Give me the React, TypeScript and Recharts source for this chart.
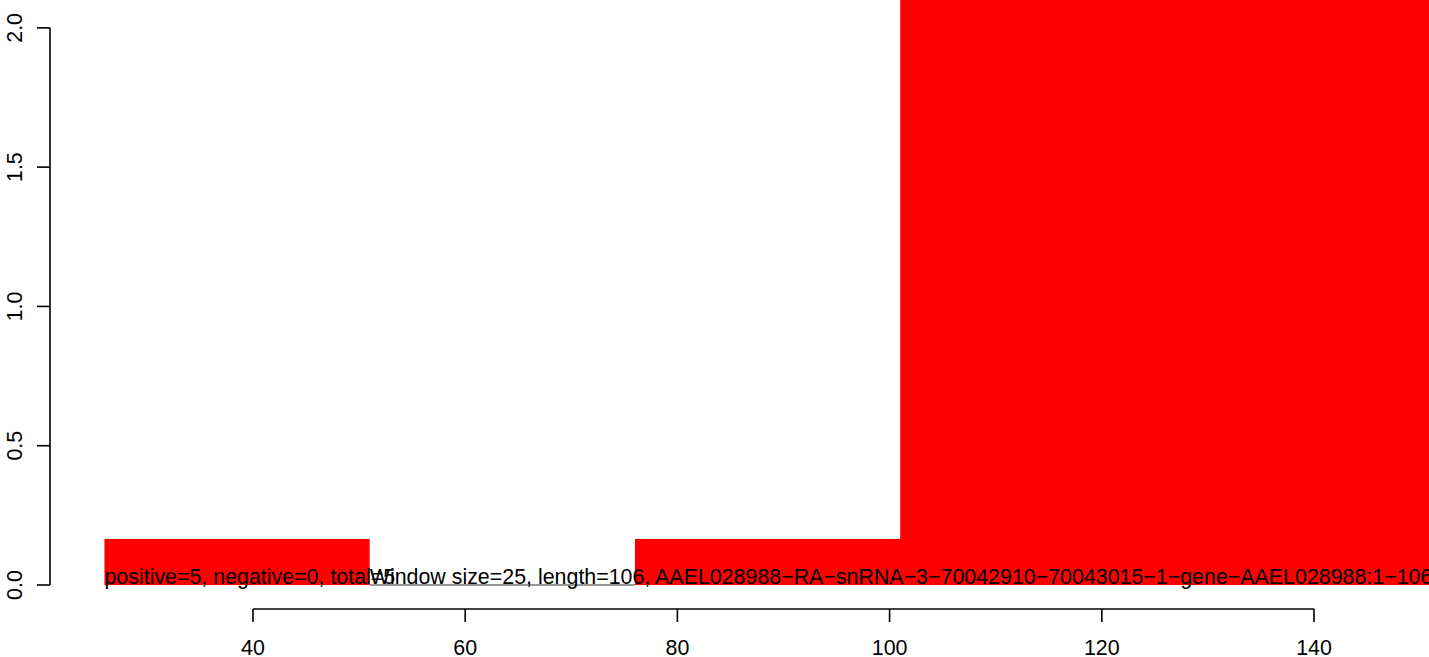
import { ComposedChart, Area, XAxis, YAxis, ReferenceLine, ReferenceDot } from 'recharts';

const binEdges = [26, 51, 76, 101, 126, 151];
const binHeights = [0.165, 0, 0.165, 2.6, 2.6];
const xTicks = [40, 60, 80, 100, 120, 140];
const yTicks = [0, 0.5, 1, 1.5, 2];
const yTickLabels = ['0.0', '0.5', '1.0', '1.5', '2.0'];
const countNote = 'positive=5, negative=0, total=5';
const windowNote =
  'Window size=25, length=106, AAEL028988−RA−snRNA−3−70042910−70043015−1−gene−AAEL028988:1−106';

const W = 1429;
const H = 657;
const PLOT_BOTTOM = 585;
const X_DOMAIN: [number, number] = [16.155, 150.84];
const Y_DOMAIN: [number, number] = [0, 2.1];
const FONT = '"Liberation Sans", Arial, Helvetica, sans-serif';
const FS = 21.4;

// R draws its axes a little away from the plot box
const xAxisLineY = -24 * (Y_DOMAIN[1] / PLOT_BOTTOM);
const yAxisLineX = X_DOMAIN[0] + 50 * ((X_DOMAIN[1] - X_DOMAIN[0]) / W);

const data = binEdges.map((e, i) => ({
  pos: e,
  h: binHeights[Math.min(i, binHeights.length - 1)],
}));

const zeroBins = binHeights
  .map((h, i) => ({ h, from: binEdges[i], to: binEdges[i + 1] }))
  .filter((b) => b.h === 0);

function XTick(props: any) {
  const { x, payload } = props;
  return (
    <g>
      <line x1={x} x2={x} y1={PLOT_BOTTOM + 24} y2={PLOT_BOTTOM + 37} stroke="#000" strokeWidth={1.6} />
      <text x={x} y={PLOT_BOTTOM + 70} textAnchor="middle" fontSize={FS} fontFamily={FONT} fill="#000">
        {payload.value}
      </text>
    </g>
  );
}

function YTick(props: any) {
  const { y, payload, index } = props;
  const label = yTickLabels[index] ?? String(payload.value);
  return (
    <g>
      <line x1={37} x2={50} y1={y} y2={y} stroke="#000" strokeWidth={1.6} />
      <text
        x={22}
        y={y}
        transform={`rotate(-90, 22, ${y})`}
        textAnchor="middle"
        fontSize={FS}
        fontFamily={FONT}
        fill="#000"
      >
        {label}
      </text>
    </g>
  );
}

export default function App() {
  return (
    <div style={{ position: 'absolute', left: 0, top: 0, background: '#fff' }}>
      <ComposedChart width={W} height={H} data={data} margin={{ top: 0, right: 0, bottom: 0, left: 0 }}>
        <XAxis
          dataKey="pos"
          type="number"
          domain={X_DOMAIN}
          ticks={xTicks}
          allowDataOverflow
          height={H - PLOT_BOTTOM}
          axisLine={false}
          tickLine={false}
          interval={0}
          tick={<XTick />}
        />
        <YAxis
          type="number"
          domain={Y_DOMAIN}
          ticks={yTicks}
          allowDataOverflow
          mirror
          axisLine={false}
          tickLine={false}
          interval={0}
          tick={<YTick />}
        />
        <Area
          dataKey="h"
          type="stepAfter"
          fill="#FF0000"
          fillOpacity={1}
          stroke="none"
          dot={false}
          activeDot={false}
          isAnimationActive={false}
        />
        {zeroBins.map((b) => (
          <ReferenceLine
            key={b.from}
            segment={[{ x: b.from, y: 0 }, { x: b.to, y: 0 }]}
            stroke="#333"
            strokeWidth={1}
            ifOverflow="visible"
          />
        ))}
        <ReferenceLine
          segment={[{ x: xTicks[0], y: xAxisLineY }, { x: xTicks[xTicks.length - 1], y: xAxisLineY }]}
          stroke="#000"
          strokeWidth={1.6}
          ifOverflow="visible"
        />
        <ReferenceLine
          segment={[{ x: yAxisLineX, y: yTicks[0] }, { x: yAxisLineX, y: yTicks[yTicks.length - 1] }]}
          stroke="#000"
          strokeWidth={1.6}
          ifOverflow="visible"
        />
        <ReferenceDot
          x={binEdges[0]}
          y={0}
          r={0}
          ifOverflow="visible"
          shape={(p: any) => (
            <text x={p.cx} y={p.cy - 1} fontSize={FS} fontFamily={FONT} fill="#000">
              {countNote}
            </text>
          )}
        />
        <ReferenceDot
          x={binEdges[1]}
          y={0}
          r={0}
          ifOverflow="visible"
          shape={(p: any) => (
            <text x={p.cx} y={p.cy - 1} fontSize={FS} fontFamily={FONT} fill="#000">
              {windowNote}
            </text>
          )}
        />
      </ComposedChart>
    </div>
  );
}
